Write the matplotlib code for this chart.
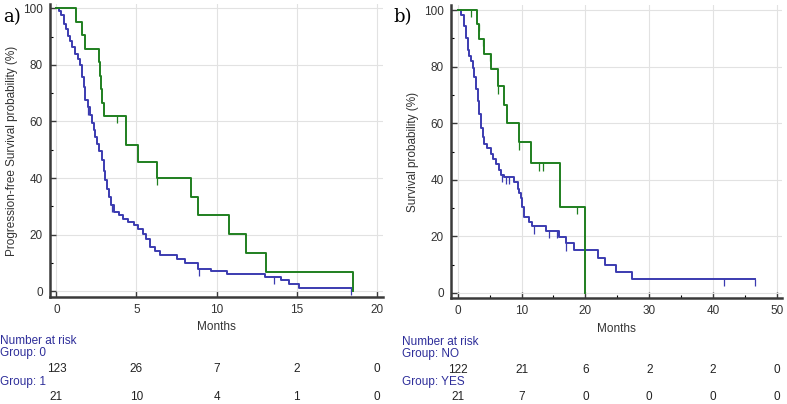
import matplotlib
matplotlib.use("Agg")
import matplotlib.pyplot as plt
import matplotlib.transforms as mtransforms
import numpy as np

plt.rcParams['font.family'] = ['Liberation Sans', 'DejaVu Sans']

# ---- panel a: progression-free survival, groups 0 / 1 ----
a_t0 = [0, 0.15, 0.3, 0.45, 0.6, 0.75, 0.87, 1.0, 1.18, 1.35, 1.5, 1.6, 1.7, 1.81, 1.95,
        2.12, 2.22, 2.32, 2.43, 2.53, 2.65, 2.85, 2.95, 3.05, 3.15, 3.26, 3.4, 3.57, 3.9,
        4.19, 4.5, 4.82, 5.1, 5.44, 5.6, 5.86, 6.15, 6.48, 7.52, 8.04, 8.87, 9.66, 10.63,
        13.02, 14.06, 14.54, 15.14, 18.42]
a_s0 = [100, 99.2, 97.5, 94.3, 92.7, 90.2, 88.6, 86.2, 84.0, 82.1, 79.9, 75.6, 72.3, 67.5, 65.0,
        62.2, 59.5, 56.9, 54.5, 52.2, 49.6, 46.3, 42.5, 39.2, 36.0, 33.3, 30.5, 28.0, 26.8,
        25.7, 24.4, 23.3, 22.0, 20.4, 18.5, 15.7, 14.2, 12.7, 11.5, 10.0, 8.0, 7.1, 6.2,
        5.1, 3.9, 2.7, 1.3, 1.3]
a_c0 = [2.0, 3.47, 8.9, 13.6, 18.42]

a_t1 = [0, 1.23, 1.6, 1.77, 2.66, 2.74, 2.78, 2.82, 2.95, 4.34, 5.09, 6.27, 8.41, 8.83,
        10.78, 11.82, 13.08, 18.5]
a_s1 = [100, 95.2, 90.5, 85.7, 81.0, 76.2, 71.4, 66.7, 61.9, 51.6, 45.8, 40.2, 33.5, 26.8,
        20.1, 13.4, 6.7, 0]
a_c1 = [3.78, 6.3]

a_risk_times = [0, 5, 10, 15, 20]
a_risk0 = [123, 26, 7, 2, 0]
a_risk1 = [21, 10, 4, 1, 0]
a_groups = ['Group: 0', 'Group: 1']

# ---- panel b: overall survival, groups NO / YES ----
b_t0 = [0, 0.5, 1.03, 1.3, 1.56, 1.8, 2.08, 2.35, 2.6, 2.85, 3.13, 3.4, 3.64, 3.9, 4.16,
        4.6, 5.2, 5.6, 5.98, 6.4, 6.77, 7.28, 8.84, 9.38, 9.6, 9.89, 10.1, 10.4, 11.2, 11.7,
        13.8, 15.9, 16.9, 18.2, 21.97, 23.0, 24.8, 27.3, 46.5]
b_s0 = [100, 98.4, 94.3, 90.0, 86.0, 83.6, 82.0, 79.5, 76.2, 72.1, 68.0, 63.1, 58.2, 55.0, 52.5,
        51.2, 49.2, 47.5, 45.5, 43.4, 41.8, 41.0, 39.3, 36.9, 35.2, 33.6, 30.3, 27.0, 25.2, 23.5,
        22.0, 19.8, 17.5, 15.1, 12.4, 10.0, 7.4, 4.9, 4.9]
b_c0 = [7.0, 7.55, 8.06, 12.0, 14.3, 15.5, 17.0, 41.7, 46.5]

b_t1 = [0, 3.0, 3.38, 4.16, 5.2, 6.25, 7.28, 7.65, 9.53, 11.45, 16.03, 19.94]
b_s1 = [100, 95.2, 89.9, 84.6, 79.1, 73.1, 66.6, 60.0, 53.3, 45.8, 30.5, 0]
b_c1 = [2.07, 3.26, 3.9, 5.05, 6.35, 9.6, 12.75, 13.4, 18.75]

b_risk_times = [0, 10, 20, 30, 40, 50]
b_risk0 = [122, 21, 6, 2, 2, 0]
b_risk1 = [21, 7, 0, 0, 0, 0]
b_groups = ['Group: NO', 'Group: YES']

BLUE = '#3b3bb0'
GREEN = '#1f7f1f'
RISK = '#2e2e9a'
W, H = 787, 404


def fy(px):
    return 1 - px / H


def km(ax, t, s, cens, color):
    ax.step(t, s, where='post', color=color, lw=1.4, zorder=3)
    idx = np.searchsorted(t, cens, side='right') - 1
    lev = np.array(s)[idx]
    ax.vlines(cens, lev - 2.6, lev, color=color, lw=0.9, zorder=3)


def style(ax, xmax, xstep, xminor):
    for sp in ['top', 'right']:
        ax.spines[sp].set_visible(False)
    for sp in ['left', 'bottom']:
        ax.spines[sp].set_linewidth(1.8)
        ax.spines[sp].set_color('#3a3a3a')
    ax.set_yticks([0, 20, 40, 60, 80, 100])
    ax.set_yticks([10, 30, 50, 70, 90], minor=True)
    ax.set_xticks(np.arange(0, xmax + 1, xstep))
    ax.set_xticks(np.arange(xminor, xmax, xstep), minor=True)
    ax.tick_params(direction='in', length=4, width=1, colors='#3a3a3a', labelsize=8.5,
                   labelcolor='#333333', pad=5)
    ax.tick_params(which='minor', direction='in', length=2.5, width=0.8)
    ax.grid(True, which='major', color='#e2e2e2', lw=0.8, zorder=0)
    ax.set_axisbelow(True)
    ax.set_xlabel('Months', fontsize=8.5, color='#333333', labelpad=4)


fig = plt.figure(figsize=(W / 100, H / 100), dpi=100)

ax1 = fig.add_axes([50 / W, 1 - 297 / H, 333 / W, 293 / H])
km(ax1, a_t0, a_s0, a_c0, BLUE)
km(ax1, a_t1, a_s1, a_c1, GREEN)
ax1.set_xlim(-0.4, 20.4)
ax1.set_ylim(-2, 101.5)
style(ax1, 20, 5, 2.5)
ax1.set_xticks([], minor=True)
ax1.set_ylabel('Progression-free Survival probability (%)', fontsize=8.5, color='#333333',
               labelpad=4)

ax2 = fig.add_axes([451 / W, 1 - 298 / H, 331 / W, 293 / H])
km(ax2, b_t0, b_s0, b_c0, BLUE)
km(ax2, b_t1, b_s1, b_c1, GREEN)
ax2.set_xlim(-1.05, 50.8)
ax2.set_ylim(-1.8, 101.8)
style(ax2, 50, 10, 5)
ax2.set_ylabel('Survival probability (%)', fontsize=8.5, color='#333333', labelpad=4)

fig.text(3 / W, fy(17), 'a)', fontsize=13, family='DejaVu Serif', va='center')
fig.text(393 / W, fy(17), 'b)', fontsize=13, family='DejaVu Serif', va='center')

# number-at-risk tables
def risk_table(ax, x0, times, r0, r1, groups, ys):
    fig.text(x0 / W, fy(ys[0]), 'Number at risk', color=RISK, fontsize=8.5, va='center')
    fig.text(x0 / W, fy(ys[1]), groups[0], color=RISK, fontsize=8.5, va='center')
    fig.text(x0 / W, fy(ys[3]), groups[1], color=RISK, fontsize=8.5, va='center')
    tr = mtransforms.blended_transform_factory(ax.transData, fig.transFigure)
    for t, n0, n1 in zip(times, r0, r1):
        ax.text(t, fy(ys[2]), str(n0), transform=tr, ha='center', va='center',
                fontsize=8.5, color='#222222')
        ax.text(t, fy(ys[4]), str(n1), transform=tr, ha='center', va='center',
                fontsize=8.5, color='#222222')


risk_table(ax1, 0, a_risk_times, a_risk0, a_risk1, a_groups, [341, 353, 369, 382, 397])
risk_table(ax2, 402, b_risk_times, b_risk0, b_risk1, b_groups, [342, 354, 370, 382, 397])

fig.savefig('out.png', dpi=100)
